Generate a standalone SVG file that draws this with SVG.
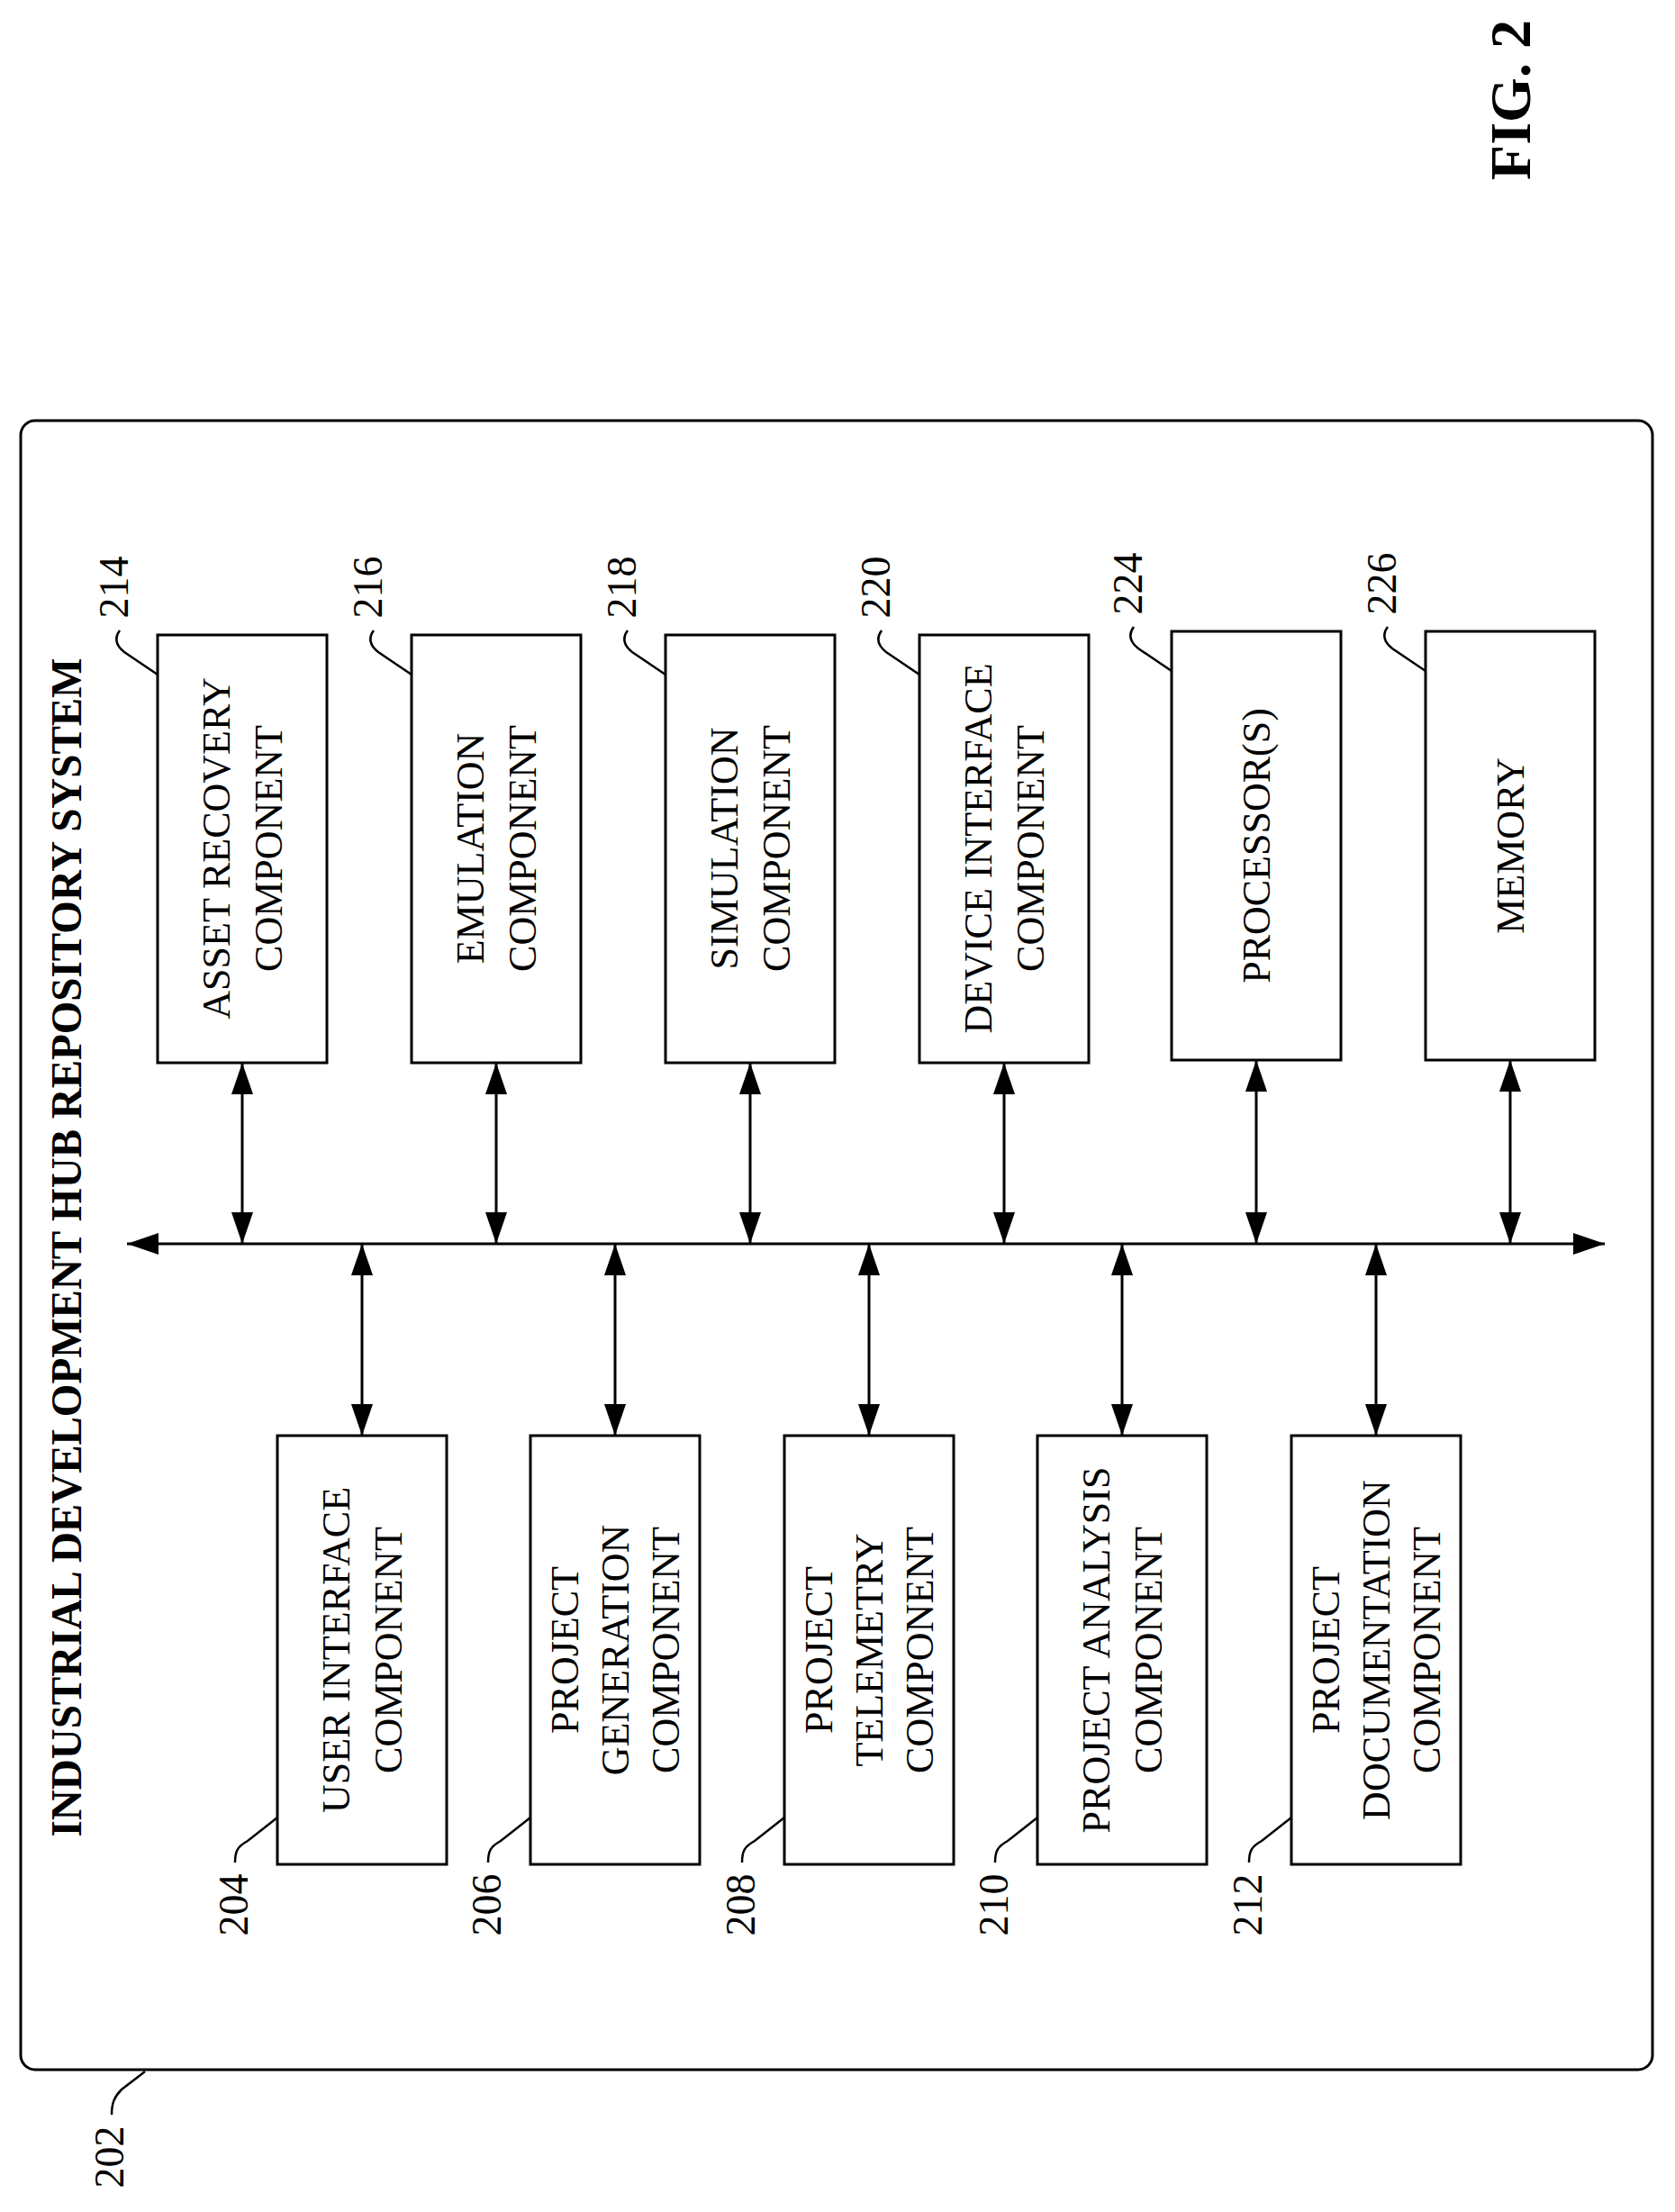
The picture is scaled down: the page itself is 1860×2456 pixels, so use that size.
<svg xmlns="http://www.w3.org/2000/svg" width="1860" height="2456" viewBox="0 0 1860 2456">
<style>
.b{fill:#fff;stroke:#000;stroke-width:3}
.t{font-family:"Liberation Serif",serif;font-size:44px;text-anchor:middle;fill:#000}
.n{font-family:"Liberation Serif",serif;font-size:46px;text-anchor:middle;fill:#000}
.l{fill:none;stroke:#000;stroke-width:2.5}
.c{fill:none;stroke:#000;stroke-width:3;marker-start:url(#a);marker-end:url(#a)}
</style>
<defs>
<marker id="a" markerUnits="userSpaceOnUse" markerWidth="36" markerHeight="26" refX="35" refY="12" orient="auto-start-reverse" viewBox="0 0 36 24"><path d="M0,0 L35,12 L0,24 Z" fill="#000"/></marker>
</defs>
<text x="1699" y="111" transform="rotate(-90 1699 111)" style="font-family:'Liberation Serif',serif;font-size:64px;font-weight:bold;text-anchor:middle">FIG. 2</text>
<g id="n202">
<rect x="23" y="467" width="1812" height="1831" rx="16" class="b"/>
<text x="90" y="1385" transform="rotate(-90 90 1385)" textLength="1309" lengthAdjust="spacingAndGlyphs" style="font-family:'Liberation Serif',serif;font-size:48px;font-weight:bold;text-anchor:middle">INDUSTRIAL DEVELOPMENT HUB REPOSITORY SYSTEM</text>
<path class="l" d="M124,2348 C124,2335 127,2328 135,2320 L161,2300"/>
<text class="n" transform="translate(137,2395) rotate(-90)">202</text>
</g>
<g id="connectors">
<line class="c" x1="141" y1="1381" x2="1782" y2="1381"/>
<line class="c" x1="269" y1="1180" x2="269" y2="1381"/>
<line class="c" x1="551" y1="1180" x2="551" y2="1381"/>
<line class="c" x1="833" y1="1180" x2="833" y2="1381"/>
<line class="c" x1="1115" y1="1180" x2="1115" y2="1381"/>
<line class="c" x1="1395" y1="1177" x2="1395" y2="1381"/>
<line class="c" x1="1677" y1="1177" x2="1677" y2="1381"/>
<line class="c" x1="402" y1="1381" x2="402" y2="1594"/>
<line class="c" x1="683" y1="1381" x2="683" y2="1594"/>
<line class="c" x1="965" y1="1381" x2="965" y2="1594"/>
<line class="c" x1="1246" y1="1381" x2="1246" y2="1594"/>
<line class="c" x1="1528" y1="1381" x2="1528" y2="1594"/>
</g>
<g id="n214"><rect class="b" x="175" y="705" width="188" height="475"/>
<text class="t" transform="translate(269,942) rotate(-90)"><tspan x="0" y="-14">ASSET RECOVERY</tspan><tspan x="0" y="44">COMPONENT</tspan></text>
<path class="l" d="M133,700 C127,708 128,716 138,724 L175,749"/><text class="n" transform="translate(142,652) rotate(-90)">214</text></g>
<g id="n216"><rect class="b" x="457" y="705" width="188" height="475"/>
<text class="t" transform="translate(551,942) rotate(-90)"><tspan x="0" y="-14">EMULATION</tspan><tspan x="0" y="44">COMPONENT</tspan></text>
<path class="l" d="M415,700 C409,708 410,716 420,724 L457,749"/><text class="n" transform="translate(424,652) rotate(-90)">216</text></g>
<g id="n218"><rect class="b" x="739" y="705" width="188" height="475"/>
<text class="t" transform="translate(833,942) rotate(-90)"><tspan x="0" y="-14">SIMULATION</tspan><tspan x="0" y="44">COMPONENT</tspan></text>
<path class="l" d="M697,700 C691,708 692,716 702,724 L739,749"/><text class="n" transform="translate(706,652) rotate(-90)">218</text></g>
<g id="n220"><rect class="b" x="1021" y="705" width="188" height="475"/>
<text class="t" transform="translate(1115,942) rotate(-90)"><tspan x="0" y="-14">DEVICE INTERFACE</tspan><tspan x="0" y="44">COMPONENT</tspan></text>
<path class="l" d="M979,700 C973,708 974,716 984,724 L1021,749"/><text class="n" transform="translate(988,652) rotate(-90)">220</text></g>
<g id="n224"><rect class="b" x="1301" y="701" width="188" height="476"/>
<text class="t" transform="translate(1395,939) rotate(-90)"><tspan x="0" y="15">PROCESSOR(S)</tspan></text>
<path class="l" d="M1259,696 C1253,704 1254,712 1264,720 L1301,745"/><text class="n" transform="translate(1268,648) rotate(-90)">224</text></g>
<g id="n226"><rect class="b" x="1583" y="701" width="188" height="476"/>
<text class="t" transform="translate(1677,939) rotate(-90)"><tspan x="0" y="15">MEMORY</tspan></text>
<path class="l" d="M1541,696 C1535,704 1536,712 1546,720 L1583,745"/><text class="n" transform="translate(1550,648) rotate(-90)">226</text></g>
<g id="n204"><rect class="b" x="308" y="1594" width="188" height="476"/>
<text class="t" transform="translate(402,1832) rotate(-90)"><tspan x="0" y="-14">USER INTERFACE</tspan><tspan x="0" y="44">COMPONENT</tspan></text>
<path class="l" d="M261,2068 C261,2055 264,2050 275,2044 L308,2018"/><text class="n" transform="translate(275,2115) rotate(-90)">204</text></g>
<g id="n206"><rect class="b" x="589" y="1594" width="188" height="476"/>
<text class="t" transform="translate(683,1832) rotate(-90)"><tspan x="0" y="-41">PROJECT</tspan><tspan x="0" y="15">GENERATION</tspan><tspan x="0" y="71">COMPONENT</tspan></text>
<path class="l" d="M542,2068 C542,2055 545,2050 556,2044 L589,2018"/><text class="n" transform="translate(556,2115) rotate(-90)">206</text></g>
<g id="n208"><rect class="b" x="871" y="1594" width="188" height="476"/>
<text class="t" transform="translate(965,1832) rotate(-90)"><tspan x="0" y="-41">PROJECT</tspan><tspan x="0" y="15">TELEMETRY</tspan><tspan x="0" y="71">COMPONENT</tspan></text>
<path class="l" d="M824,2068 C824,2055 827,2050 838,2044 L871,2018"/><text class="n" transform="translate(838,2115) rotate(-90)">208</text></g>
<g id="n210"><rect class="b" x="1152" y="1594" width="188" height="476"/>
<text class="t" transform="translate(1246,1832) rotate(-90)"><tspan x="0" y="-14">PROJECT ANALYSIS</tspan><tspan x="0" y="44">COMPONENT</tspan></text>
<path class="l" d="M1105,2068 C1105,2055 1108,2050 1119,2044 L1152,2018"/><text class="n" transform="translate(1119,2115) rotate(-90)">210</text></g>
<g id="n212"><rect class="b" x="1434" y="1594" width="188" height="476"/>
<text class="t" transform="translate(1528,1832) rotate(-90)"><tspan x="0" y="-41">PROJECT</tspan><tspan x="0" y="15">DOCUMENTATION</tspan><tspan x="0" y="71">COMPONENT</tspan></text>
<path class="l" d="M1387,2068 C1387,2055 1390,2050 1401,2044 L1434,2018"/><text class="n" transform="translate(1401,2115) rotate(-90)">212</text></g>
</svg>
